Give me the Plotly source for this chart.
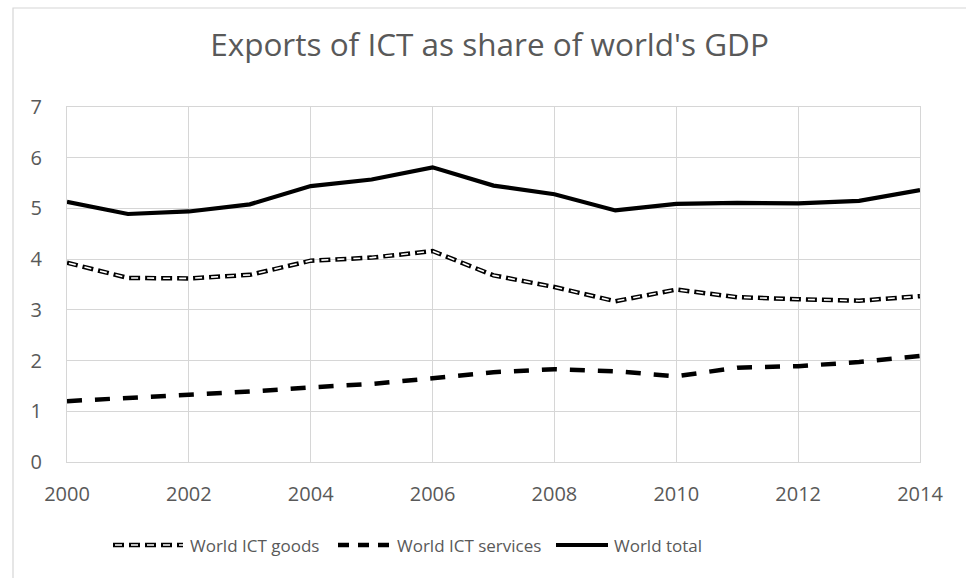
import plotly.graph_objects as go

years = list(range(2000, 2015))
goods = [3.93, 3.63, 3.62, 3.69, 3.97, 4.03, 4.16, 3.68, 3.45, 3.17, 3.40, 3.25, 3.21, 3.18, 3.27]
services = [1.20, 1.26, 1.32, 1.39, 1.47, 1.54, 1.65, 1.77, 1.83, 1.79, 1.69, 1.86, 1.89, 1.97, 2.09]
total = [5.13, 4.89, 4.94, 5.08, 5.44, 5.57, 5.81, 5.45, 5.28, 4.96, 5.09, 5.11, 5.10, 5.15, 5.36]
series_names = ["World ICT goods", "World ICT services", "World total"]
title_text = "Exports of ICT as share of world's GDP"

W, H = 966, 578
L, R, T, B = 67, 920, 107, 462  # plot area in pixels
FONT = "Open Sans"
GREY = "#595959"
GRID = "#d6d6d6"

def px(x):
    return (x - L) / (R - L)

def py(y):
    return (B - y) / (B - T)

fig = go.Figure()
# hollow dashed line: black outer + white inner
fig.add_trace(go.Scatter(x=years, y=goods, mode="lines", name=series_names[0],
                         line=dict(color="black", width=4.5, dash="11px,5px"),
                         showlegend=False, hoverinfo="skip"))
fig.add_trace(go.Scatter(x=years, y=goods, mode="lines", name=series_names[0],
                         line=dict(color="white", width=1.6, dash="0px,2px,7px,7px"),
                         showlegend=False))
fig.add_trace(go.Scatter(x=years, y=services, mode="lines", name=series_names[1],
                         line=dict(color="black", width=4.5, dash="15px,13px"),
                         showlegend=False))
fig.add_trace(go.Scatter(x=years, y=total, mode="lines", name=series_names[2],
                         line=dict(color="black", width=4.2),
                         showlegend=False))

shapes = []
annotations = []
# outer chart frame
shapes.append(dict(type="rect", xref="paper", yref="paper",
                   x0=px(13), x1=px(985), y0=py(600), y1=py(8),
                   line=dict(color=GRID, width=1.2), layer="below"))

# manual legend
ly = py(545)
# goods
shapes.append(dict(type="line", xref="paper", yref="paper", x0=px(113), x1=px(183), y0=ly, y1=ly,
                   line=dict(color="black", width=4.5, dash="11px,5px")))
shapes.append(dict(type="line", xref="paper", yref="paper", x0=px(113), x1=px(183), y0=ly, y1=ly,
                   line=dict(color="white", width=1.6, dash="0px,2px,7px,7px")))
# services
shapes.append(dict(type="line", xref="paper", yref="paper", x0=px(338), x1=px(391), y0=ly, y1=ly,
                   line=dict(color="black", width=4.5, dash="11px,9px")))
# total
shapes.append(dict(type="line", xref="paper", yref="paper", x0=px(556), x1=px(608), y0=ly, y1=ly,
                   line=dict(color="black", width=4.2)))
for name, xs in zip(series_names, [188, 395, 612]):
    annotations.append(dict(text=name, xref="paper", yref="paper", x=px(xs), y=ly,
                            xanchor="left", yanchor="middle", showarrow=False,
                            font=dict(family=FONT, size=17, color=GREY)))

fig.update_layout(
    width=W, height=H,
    margin=dict(l=L, r=W - R, t=T, b=H - B, pad=0),
    paper_bgcolor="white", plot_bgcolor="white",
    title=dict(text=title_text, x=(207 + 772) / 2 / W, xanchor="center",
               y=1 - 45 / H, yanchor="middle",
               font=dict(family=FONT, size=31.5, color=GREY)),
    showlegend=False,
    shapes=shapes, annotations=annotations,
    font=dict(family=FONT, color=GREY),
)
fig.update_xaxes(range=[2000, 2014], tickmode="linear", tick0=2000, dtick=2,
                 showgrid=True, gridcolor=GRID, gridwidth=1.3,
                 showline=True, linecolor=GRID, linewidth=1.3, mirror=True,
                 ticks="", ticklabelstandoff=14,
                 tickfont=dict(family=FONT, size=20, color=GREY), zeroline=False)
fig.update_yaxes(range=[0, 7], dtick=1, tick0=0,
                 showgrid=True, gridcolor=GRID, gridwidth=1.3,
                 showline=True, linecolor=GRID, linewidth=1.3, mirror=True,
                 ticks="", ticklabelstandoff=20,
                 tickfont=dict(family=FONT, size=20, color=GREY), zeroline=False)

fig.write_html("out.html")
